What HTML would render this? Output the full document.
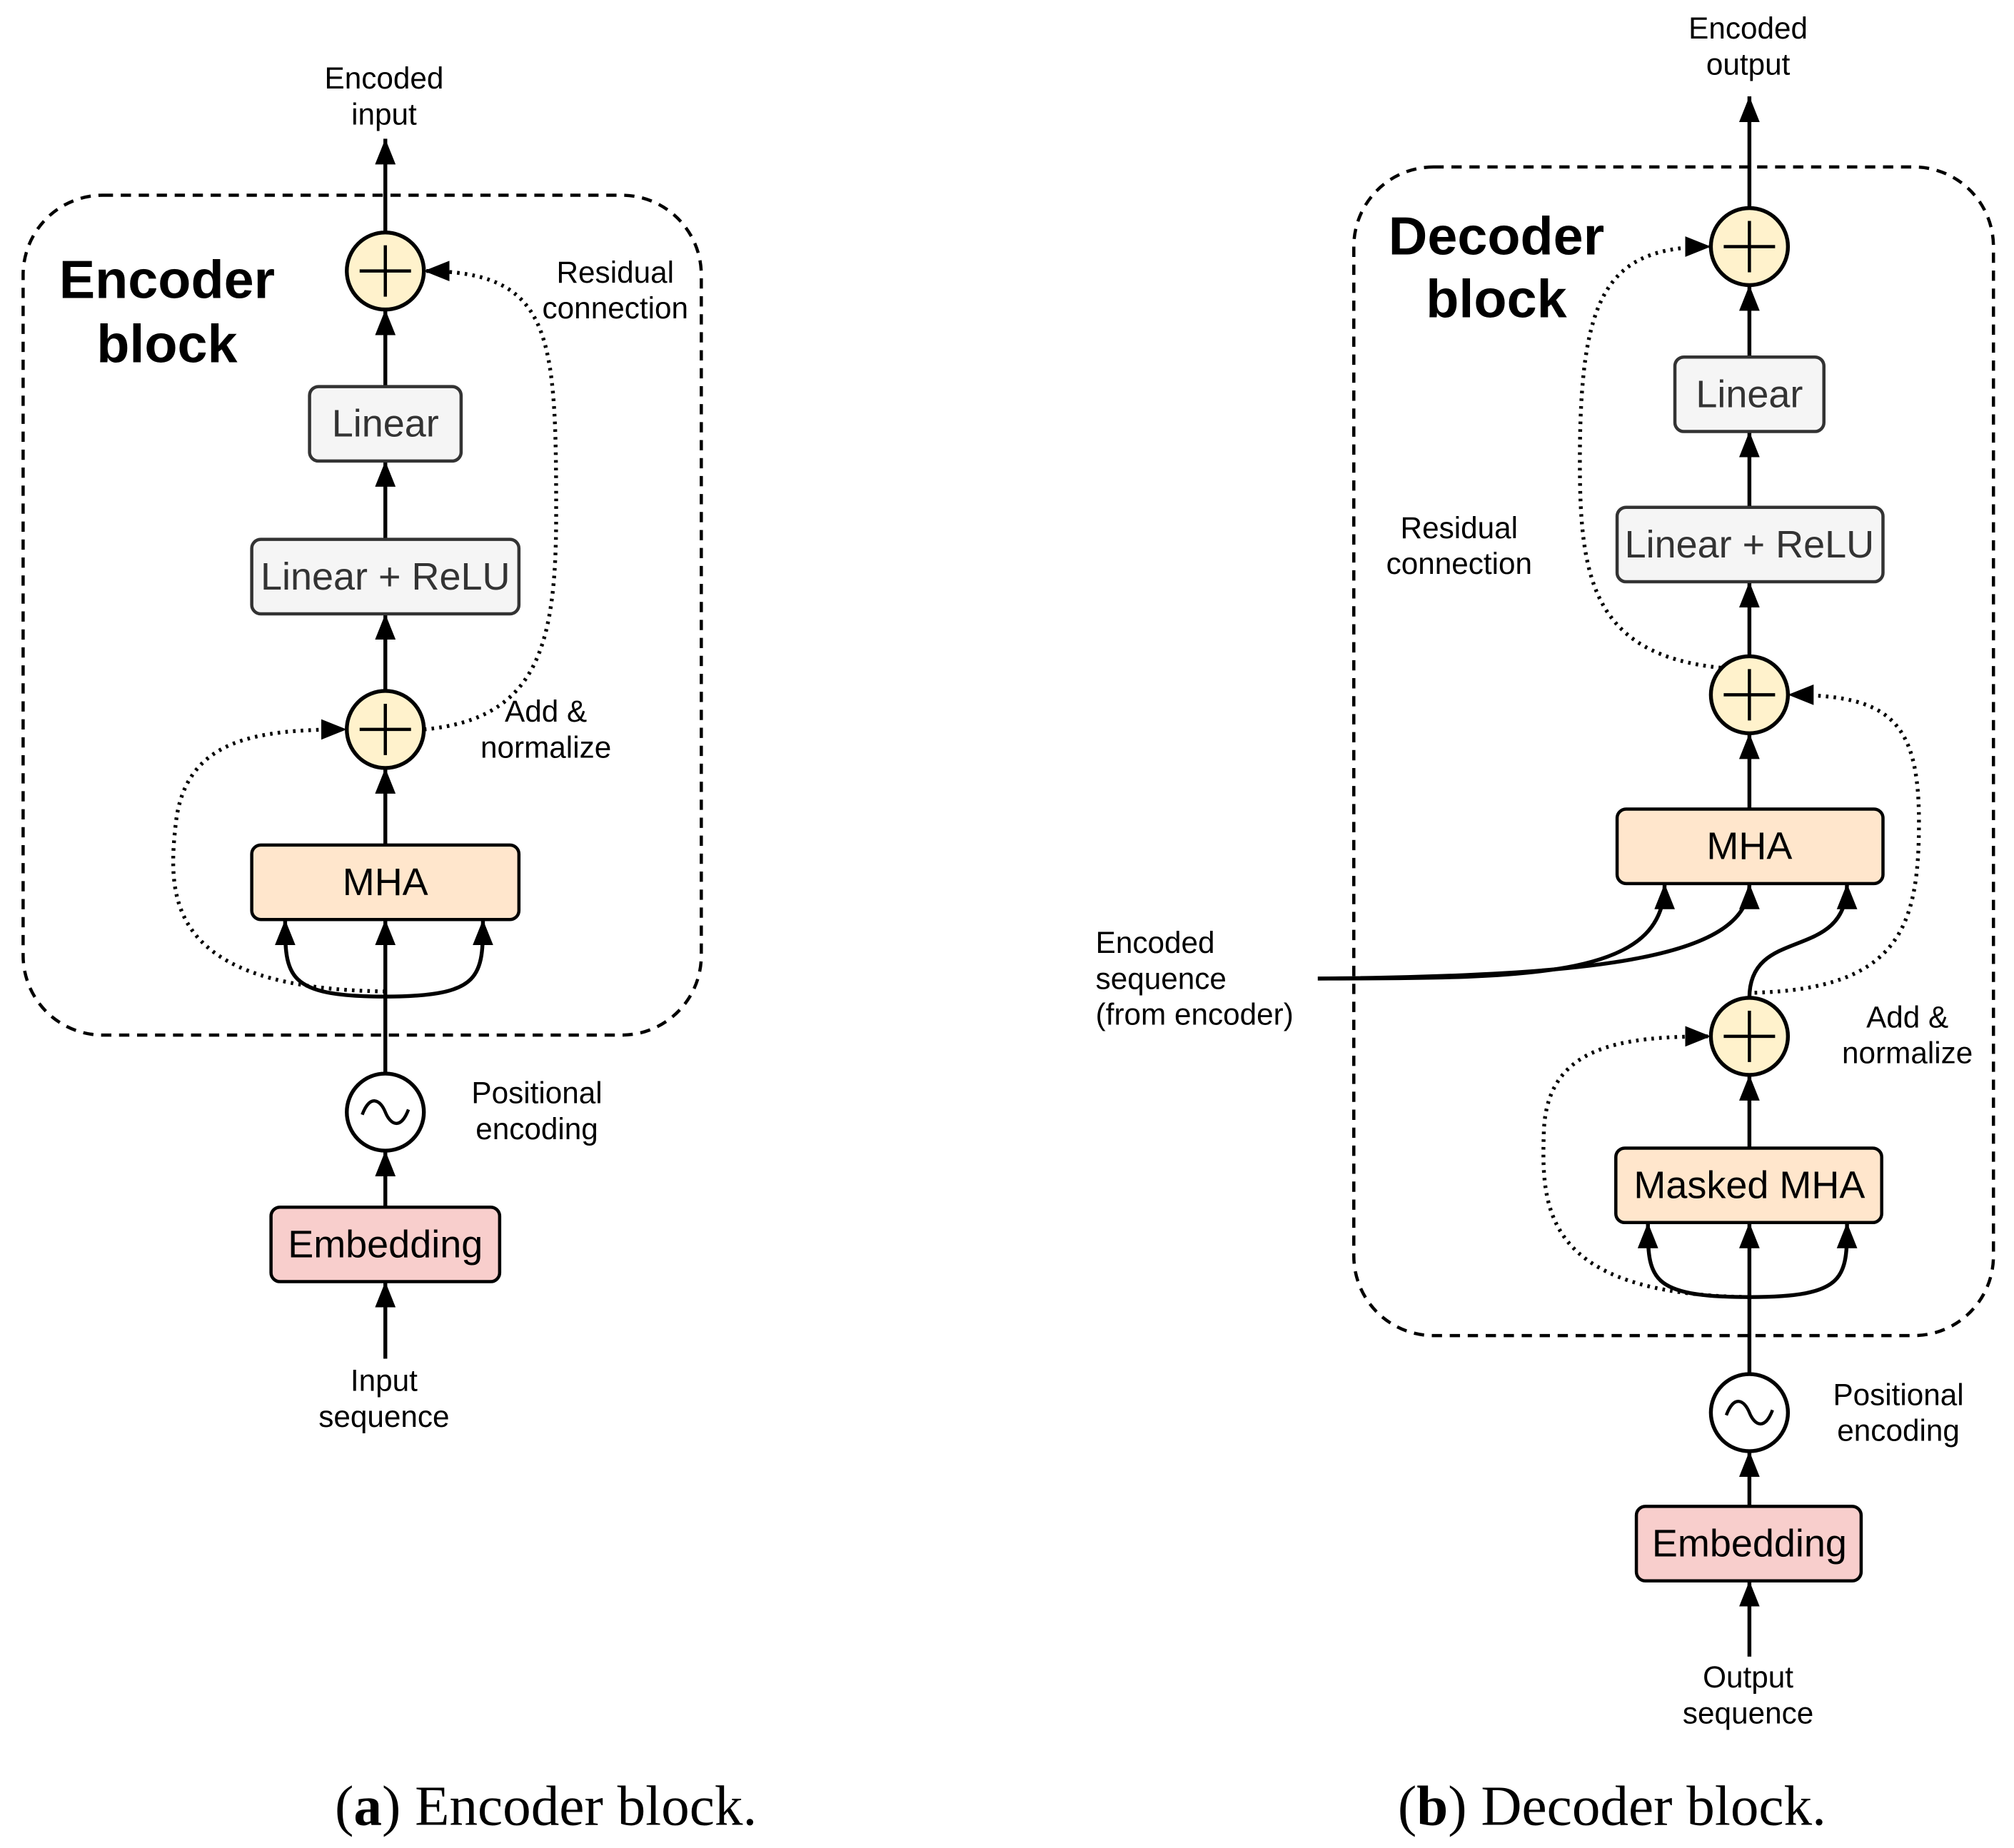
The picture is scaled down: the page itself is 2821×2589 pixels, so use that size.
<!DOCTYPE html>
<html><head><meta charset="utf-8"><style>html,body{margin:0;padding:0;background:#fff}svg{display:block}</style></head>
<body>
<svg width="2821" height="2589" viewBox="0 0 1568 1439" xmlns="http://www.w3.org/2000/svg" font-family="Liberation Sans, sans-serif">
<defs>
<marker id="h" viewBox="0 0 20 16" refX="20" refY="8" markerWidth="20" markerHeight="16" orient="auto" markerUnits="userSpaceOnUse">
<path d="M0,0 L20,8 L0,16 Z" fill="#000"/>
</marker>
</defs>
<g fill="none" stroke="#000" stroke-width="3">
<rect x="18" y="152" width="528" height="654" rx="62" stroke-dasharray="8,6" stroke-width="2.5"/>
<line x1="300" y1="181" x2="300" y2="108" marker-end="url(#h)"/>
<line x1="300" y1="301" x2="300" y2="241" marker-end="url(#h)"/>
<line x1="300" y1="420" x2="300" y2="359" marker-end="url(#h)"/>
<line x1="300" y1="538" x2="300" y2="478" marker-end="url(#h)"/>
<line x1="300" y1="658" x2="300" y2="598" marker-end="url(#h)"/>
<line x1="300" y1="836" x2="300" y2="716" marker-end="url(#h)"/>
<path d="M300,776 C222,776 222,760 222,716" marker-end="url(#h)"/>
<path d="M300,776 C376,776 376,760 376,716" marker-end="url(#h)"/>
<line x1="300" y1="940" x2="300" y2="896" marker-end="url(#h)"/>
<line x1="300" y1="1058" x2="300" y2="998" marker-end="url(#h)"/>
<path d="M300,772 C130,770 130,700 137,640 C145,575 200,568 270,568" stroke-dasharray="2,4" marker-end="url(#h)"/>
<path d="M330,568 C420,560 433,500 433,400 C433,260 430,211 330,211" stroke-dasharray="2,4" marker-end="url(#h)"/>
<rect x="1054" y="130" width="498" height="910" rx="62" stroke-dasharray="8,6" stroke-width="2.5"/>
<line x1="1362" y1="162" x2="1362" y2="75" marker-end="url(#h)"/>
<line x1="1362" y1="278" x2="1362" y2="222" marker-end="url(#h)"/>
<line x1="1362" y1="395" x2="1362" y2="336" marker-end="url(#h)"/>
<line x1="1362" y1="511" x2="1362" y2="453" marker-end="url(#h)"/>
<line x1="1362" y1="630" x2="1362" y2="571" marker-end="url(#h)"/>
<line x1="1362" y1="894" x2="1362" y2="837" marker-end="url(#h)"/>
<line x1="1362" y1="1070" x2="1362" y2="952" marker-end="url(#h)"/>
<path d="M1362,1010 C1283,1010 1283,995 1283,952" marker-end="url(#h)"/>
<path d="M1362,1010 C1438,1010 1438,995 1438,952" marker-end="url(#h)"/>
<line x1="1362" y1="1173" x2="1362" y2="1130" marker-end="url(#h)"/>
<line x1="1362" y1="1290" x2="1362" y2="1231" marker-end="url(#h)"/>
<path d="M1026,762 C1200,762 1296,760 1296,688" marker-end="url(#h)"/>
<path d="M1026,762 C1250,760 1362,745 1362,688" marker-end="url(#h)"/>
<path d="M1362,777 C1362,720 1438,750 1438,688" marker-end="url(#h)"/>
<path d="M1362,1010 C1200,1008 1200,940 1202,880 C1205,815 1260,807 1332,807" stroke-dasharray="2,4" marker-end="url(#h)"/>
<path d="M1366,773 C1480,770 1494,720 1494,640 C1494,560 1470,541 1392,541" stroke-dasharray="2,4" marker-end="url(#h)"/>
<path d="M1340,520 C1240,510 1230,450 1230,360 C1230,230 1250,192 1332,192" stroke-dasharray="2,4" marker-end="url(#h)"/>
</g>
<g stroke="#000" stroke-width="3">
<circle cx="300" cy="211" r="30" fill="#fff2cc"/>
<circle cx="300" cy="568" r="30" fill="#fff2cc"/>
<circle cx="300" cy="866" r="30" fill="#fff"/>
<circle cx="1362" cy="192" r="30" fill="#fff2cc"/>
<circle cx="1362" cy="541" r="30" fill="#fff2cc"/>
<circle cx="1362" cy="807" r="30" fill="#fff2cc"/>
<circle cx="1362" cy="1100" r="30" fill="#fff"/>
<path d="M300,191V231M280,211H320M300,548V588M280,568H320M1362,172V212M1342,192H1382M1362,521V561M1342,541H1382M1362,787V827M1342,807H1382" stroke-width="2.5"/>
<path d="M282,868 C288,852 296,856 300,866 C304,876 312,880 318,864 M1344,1102 C1350,1086 1358,1090 1362,1100 C1366,1110 1374,1114 1380,1098" fill="none" stroke-width="2.5"/>
</g>
<g stroke-width="2.5" stroke="#333">
<rect x="241" y="301" width="118" height="58" rx="7" fill="#f5f5f5"/>
<rect x="196" y="420" width="208" height="58" rx="7" fill="#f5f5f5"/>
<rect x="196" y="658" width="208" height="58" rx="7" fill="#ffe6cc" stroke="#000"/>
<rect x="211" y="940" width="178" height="58" rx="7" fill="#f8cecc" stroke="#000"/>
<rect x="1304" y="278" width="116" height="58" rx="7" fill="#f5f5f5"/>
<rect x="1259" y="395" width="207" height="58" rx="7" fill="#f5f5f5"/>
<rect x="1259" y="630" width="207" height="58" rx="7" fill="#ffe6cc" stroke="#000"/>
<rect x="1258" y="894" width="207" height="58" rx="7" fill="#ffe6cc" stroke="#000"/>
<rect x="1274" y="1173" width="175" height="58" rx="7" fill="#f8cecc" stroke="#000"/>
</g>
<g text-anchor="middle" font-size="30">
<text x="300" y="340" fill="#333">Linear</text>
<text x="300" y="459" fill="#333">Linear + ReLU</text>
<text x="300" y="697">MHA</text>
<text x="300" y="979">Embedding</text>
<text x="1362" y="317" fill="#333">Linear</text>
<text x="1362" y="434" fill="#333">Linear + ReLU</text>
<text x="1362" y="669">MHA</text>
<text x="1362" y="933">Masked MHA</text>
<text x="1362" y="1212">Embedding</text>
</g>
<g text-anchor="middle" font-size="42" font-weight="bold">
<text x="130" y="232">Encoder</text>
<text x="130" y="282">block</text>
<text x="1165" y="198">Decoder</text>
<text x="1165" y="247">block</text>
</g>
<g text-anchor="middle" font-size="23.5">
<text x="299" y="69">Encoded</text><text x="299" y="97">input</text>
<text x="479" y="220">Residual</text><text x="479" y="248">connection</text>
<text x="425" y="562">Add &amp;</text><text x="425" y="590">normalize</text>
<text x="418" y="859">Positional</text><text x="418" y="887">encoding</text>
<text x="299" y="1083">Input</text><text x="299" y="1111">sequence</text>
<text x="1361" y="30">Encoded</text><text x="1361" y="58">output</text>
<text x="1136" y="419">Residual</text><text x="1136" y="447">connection</text>
<text x="1485" y="800">Add &amp;</text><text x="1485" y="828">normalize</text>
<text x="1478" y="1094">Positional</text><text x="1478" y="1122">encoding</text>
<text x="1361" y="1314">Output</text><text x="1361" y="1342">sequence</text>
</g>
<g font-size="23.5">
<text x="853" y="742">Encoded</text><text x="853" y="770">sequence</text><text x="853" y="798">(from encoder)</text>
</g>
<g text-anchor="middle" font-size="44" font-family="Liberation Serif, serif">
<text x="425" y="1421">(<tspan font-weight="bold">a</tspan>) Encoder block.</text>
<text x="1255" y="1421">(<tspan font-weight="bold">b</tspan>) Decoder block.</text>
</g>
</svg>
</body></html>
